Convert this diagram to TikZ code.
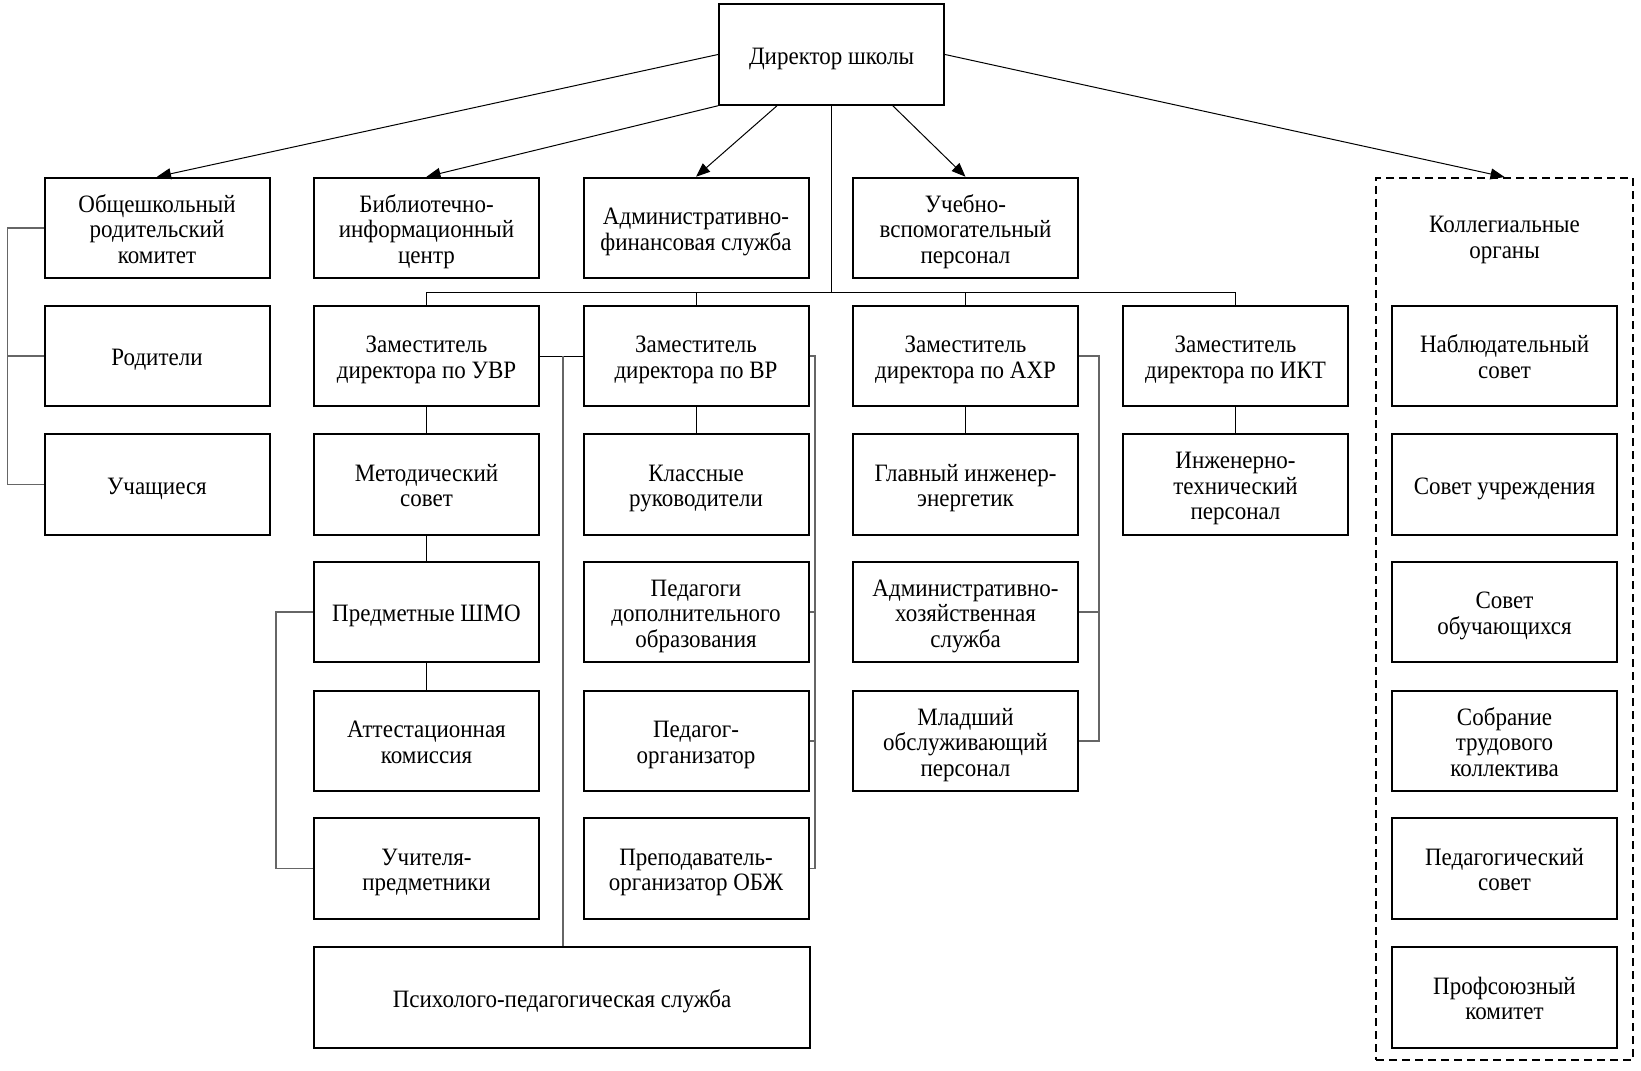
\documentclass[tikz,border=0pt]{standalone}
\usepackage{fontspec}
\setmainfont{Liberation Serif}[FakeStretch=0.92]
\usetikzlibrary{arrows.meta,calc}
% first (or only) line: fixed height, last line: no depth
\newcommand\fl[1]{\rule{0pt}{9.6pt}\smash{#1}}
\newcommand\la[1]{\smash{#1}}
\begin{document}
\begin{tikzpicture}[x=0.5pt,y=-0.5pt,
  box/.style={draw,line width=1pt,minimum width=112.5pt,minimum height=50.25pt,align=center,inner sep=2pt,font=\fontsize{12.5}{12.8}\selectfont},
  title/.style={align=center,inner sep=0pt,font=\fontsize{12.5}{12.8}\selectfont},
  conn/.style={line width=0.5pt},
  brk/.style={line width=0.6pt,draw=black!60},
  arr/.style={line width=0.5pt,-{Triangle[length=7pt,width=5.5pt]}}
]
\useasboundingbox (0,0) rectangle (1641,1070);

% director
\node[box] (dir) at (831.5,54.5) {\fl{Директор школы}};

% row 1
\node[box] (obsh) at (157,228) {\fl{Общешкольный}\\родительский\\\la{комитет}};
\node[box] (bib) at (426.5,228) {\fl{Библиотечно-}\\информационный\\\la{центр}};
\node[box] (afs) at (696,228) {\fl{Административно-}\\\la{финансовая служба}};
\node[box] (uvp) at (965.5,228) {\fl{Учебно-}\\вспомогательный\\\la{персонал}};

% collegial frame
\node[draw,dashed,line width=1pt,dash pattern=on 4pt off 2.5pt,minimum width=128.5pt,minimum height=441pt,inner sep=0pt] (kol) at (1504.5,619) {};
\node[title] (koltitle) at (1504.5,236) {\fl{Коллегиальные}\\\la{органы}};

% column 0
\node[box] (rod) at (157,356) {\fl{Родители}};
\node[box] (uch) at (157,484.5) {\fl{Учащиеся}};

% column 1
\node[box] (uvr) at (426.5,356) {\fl{Заместитель}\\\la{директора по УВР}};
\node[box] (met) at (426.5,484.5) {\fl{Методический}\\\la{совет}};
\node[box] (shmo) at (426.5,612) {\fl{Предметные ШМО}};
\node[box] (att) at (426.5,741) {\fl{Аттестационная}\\\la{комиссия}};
\node[box] (uchit) at (426.5,868.5) {\fl{Учителя-}\\\la{предметники}};
\node[box,minimum width=248pt] (psy) at (562,997.5) {\fl{Психолого-педагогическая служба}};

% column 2
\node[box] (vr) at (696,356) {\fl{Заместитель}\\\la{директора по ВР}};
\node[box] (klass) at (696,484.5) {\fl{Классные}\\\la{руководители}};
\node[box] (pdo) at (696,612) {\fl{Педагоги}\\дополнительного\\\la{образования}};
\node[box] (porg) at (696,741) {\fl{Педагог-}\\\la{организатор}};
\node[box] (obzh) at (696,868.5) {\fl{Преподаватель-}\\\la{организатор ОБЖ}};

% column 3
\node[box] (axr) at (965.5,356) {\fl{Заместитель}\\\la{директора по АХР}};
\node[box] (glav) at (965.5,484.5) {\fl{Главный инженер-}\\\la{энергетик}};
\node[box] (ahs) at (965.5,612) {\fl{Административно-}\\хозяйственная\\\la{служба}};
\node[box] (mlad) at (965.5,741) {\fl{Младший}\\обслуживающий\\\la{персонал}};

% column 4
\node[box] (ikt) at (1235.5,356) {\fl{Заместитель}\\\la{директора по ИКТ}};
\node[box] (inzh) at (1235.5,484.5) {\fl{Инженерно-}\\технический\\\la{персонал}};

% column 5
\node[box] (nab) at (1504.5,356) {\fl{Наблюдательный}\\\la{совет}};
\node[box] (sovu) at (1504.5,484.5) {\fl{Совет учреждения}};
\node[box] (sovo) at (1504.5,612) {\fl{Совет}\\\la{обучающихся}};
\node[box] (sobr) at (1504.5,741) {\fl{Собрание}\\трудового\\\la{коллектива}};
\node[box] (ped) at (1504.5,868.5) {\fl{Педагогический}\\\la{совет}};
\node[box] (prof) at (1504.5,997.5) {\fl{Профсоюзный}\\\la{комитет}};

% arrows from director
\draw[arr] (dir.west) -- (obsh.north);
\draw[arr] (dir.south west) -- (bib.north);
\draw[arr] ($(dir.south west)!0.26!(dir.south east)$) -- (afs.north);
\draw[arr] ($(dir.south west)!0.77!(dir.south east)$) -- (uvp.north);
\draw[arr] (dir.east) -- (kol.north);

% bus to deputies
\coordinate (bus) at (0,292);
\draw[conn] (dir.south) -- (dir.south |- bus);
\draw[conn] (uvr.north) -- (uvr.north |- bus) -- (ikt.north |- bus) -- (ikt.north);
\draw[conn] (vr.north) -- (vr.north |- bus);
\draw[conn] (axr.north) -- (axr.north |- bus);

% vertical chains
\draw[conn] (uvr) -- (met);
\draw[conn] (met) -- (shmo);
\draw[conn] (shmo) -- (att);
\draw[conn] (vr) -- (klass);
\draw[conn] (axr) -- (glav);
\draw[conn] (ikt) -- (inzh);

% left bracket (parents)
\coordinate (lb) at (7.3,0);
\draw[brk] (obsh.west) -- (obsh.west -| lb) -- (uch.west -| lb) -- (uch.west);
\draw[brk] (rod.west) -- (rod.west -| lb);

% UVR bracket
\coordinate (ub) at (276,0);
\draw[brk] (shmo.west) -- (shmo.west -| ub) -- (uchit.west -| ub) -- (uchit.west);

% UVR - VR link and psychology service
\draw[conn] (uvr.east) -- (vr.west);
\coordinate (pb) at (563,0);
\draw[brk] (uvr.east -| pb) -- (psy.north -| pb);

% VR bracket
\coordinate (vb) at (815,0);
\draw[brk] (vr.east) -- (vr.east -| vb) -- (obzh.east -| vb) -- (obzh.east);
\draw[brk] (pdo.east) -- (pdo.east -| vb);
\draw[brk] (porg.east) -- (porg.east -| vb);

% AXR bracket
\coordinate (ab) at (1099,0);
\draw[brk] (axr.east) -- (axr.east -| ab) -- (mlad.east -| ab) -- (mlad.east);
\draw[brk] (ahs.east) -- (ahs.east -| ab);
\end{tikzpicture}
\end{document}
